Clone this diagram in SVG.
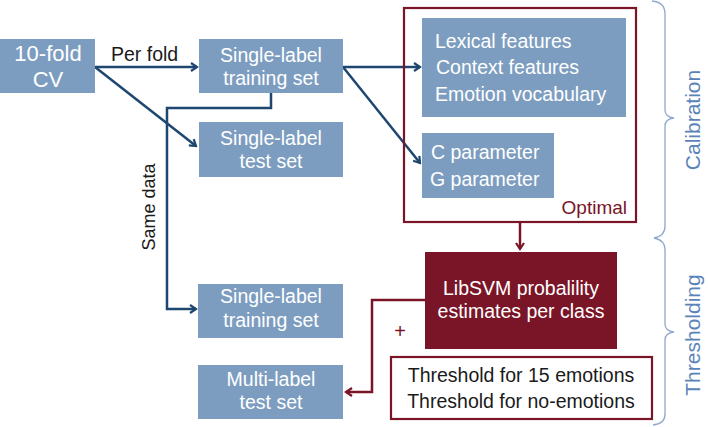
<svg xmlns="http://www.w3.org/2000/svg" width="708" height="427" viewBox="0 0 708 427">
<defs>
<style>
.box{fill:#7d9dc0}
.wt{fill:#fff;font-family:"Liberation Sans",Arial,sans-serif;font-size:19.5px}
.bt{fill:#1a1a1a;font-family:"Liberation Sans",Arial,sans-serif;font-size:19.5px}
.blue{fill:none;stroke:#1d4670;stroke-width:2.5}
.red{fill:none;stroke:#7a1527;stroke-width:2.5}
.brace{fill:none;stroke:#8faacb;stroke-width:1.3}
.side{fill:#5a84b9;font-family:"Liberation Sans",Arial,sans-serif;font-size:21px}
</style>
<marker id="ab" viewBox="0 0 10 10" refX="8" refY="5" markerWidth="4" markerHeight="4" orient="auto" markerUnits="strokeWidth">
<path d="M2,1 L8,5 L2,9" fill="none" stroke="#1d4670" stroke-width="2.2"/>
</marker>
<marker id="ar" viewBox="0 0 10 10" refX="8" refY="5" markerWidth="4" markerHeight="4" orient="auto" markerUnits="strokeWidth">
<path d="M2,1 L8,5 L2,9" fill="none" stroke="#7a1527" stroke-width="2.2"/>
</marker>
</defs>
<rect width="708" height="427" fill="#fff"/>

<g id="connectors">
<line class="blue" x1="95" y1="67" x2="197" y2="67" marker-end="url(#ab)"/>
<line class="blue" x1="95" y1="67" x2="196" y2="146" marker-end="url(#ab)"/>
<line class="blue" x1="343" y1="67" x2="420" y2="67" marker-end="url(#ab)"/>
<line class="blue" x1="343" y1="67" x2="420" y2="163" marker-end="url(#ab)"/>
<polyline class="blue" points="271,93 271,108 167,108 167,309 196,309" marker-end="url(#ab)"/>
<line class="red" x1="520" y1="222" x2="520" y2="249" marker-end="url(#ar)"/>
<polyline class="red" points="425,300 372,300 372,392 346,392" marker-end="url(#ar)"/>
<text x="155" y="207" class="bt" text-anchor="middle" transform="rotate(-90 155 207)" style="font-size:18px">Same data</text>
<text x="111" y="61" class="bt" style="font-size:19.5px">Per fold</text>
<text x="400" y="338" fill="#7a1527" font-family="Liberation Sans,Arial,sans-serif" font-size="20" text-anchor="middle">+</text>
</g>

<g id="cv">
<rect class="box" x="0" y="39" width="95" height="54"/>
<text class="wt" x="48" y="61" text-anchor="middle" style="font-size:22px">10-fold</text>
<text class="wt" x="48" y="87" text-anchor="middle" style="font-size:22px">CV</text>
</g>

<g id="train1">
<rect class="box" x="199" y="39" width="144" height="54"/>
<text class="wt" x="271" y="62" text-anchor="middle">Single-label</text>
<text class="wt" x="271" y="85" text-anchor="middle">training set</text>
</g>

<g id="test1">
<rect class="box" x="199" y="122" width="144" height="55"/>
<text class="wt" x="271" y="145" text-anchor="middle">Single-label</text>
<text class="wt" x="271" y="168" text-anchor="middle">test set</text>
</g>

<g id="optimal">
<rect x="404" y="8" width="232" height="214" fill="none" stroke="#7a1527" stroke-width="2.2"/>
<text x="627" y="214" text-anchor="end" fill="#7a1527" font-family="Liberation Sans,Arial,sans-serif" font-size="19">Optimal</text>
</g>

<g id="features">
<rect class="box" x="422" y="18" width="204" height="99"/>
<text class="wt" x="435" y="48">Lexical features</text>
<text class="wt" x="436" y="74">Context features</text>
<text class="wt" x="435" y="101">Emotion vocabulary</text>
</g>

<g id="params">
<rect class="box" x="422" y="133" width="132" height="65"/>
<text class="wt" x="431" y="159">C parameter</text>
<text class="wt" x="430" y="186">G parameter</text>
</g>

<g id="train2">
<rect class="box" x="198" y="284" width="145" height="54"/>
<text class="wt" x="271" y="303" text-anchor="middle">Single-label</text>
<text class="wt" x="271" y="327" text-anchor="middle">training set</text>
</g>

<g id="multi">
<rect class="box" x="198" y="365" width="145" height="54"/>
<text class="wt" x="271" y="386" text-anchor="middle">Multi-label</text>
<text class="wt" x="271" y="409" text-anchor="middle">test set</text>
</g>

<g id="libsvm">
<rect x="425" y="252" width="192" height="97" fill="#7a1527"/>
<text class="wt" x="521" y="295" text-anchor="middle">LibSVM probalility</text>
<text class="wt" x="521" y="318" text-anchor="middle">estimates per class</text>
</g>

<g id="threshold">
<rect x="391" y="357" width="261" height="62" fill="#fff" stroke="#7a1527" stroke-width="2.2"/>
<text class="bt" x="521" y="382" text-anchor="middle">Threshold for 15 emotions</text>
<text class="bt" x="521" y="408" text-anchor="middle">Threshold for no-emotions</text>
</g>

<g id="calibration">
<path class="brace" d="M652,1 Q665,2 665,14 L665,110 Q665,117 674,118 Q665,119 665,126 L665,226 Q665,236 654,238"/>
<text class="side" x="700" y="120" text-anchor="middle" transform="rotate(-90 700 120)">Calibration</text>
</g>

<g id="thresholding">
<path class="brace" d="M654,238 Q665,240 665,250 L665,324 Q665,331 674,332 Q665,333 665,340 L665,414 Q665,424 653,425"/>
<text class="side" x="700" y="335" text-anchor="middle" transform="rotate(-90 700 335)">Thresholding</text>
</g>
</svg>
